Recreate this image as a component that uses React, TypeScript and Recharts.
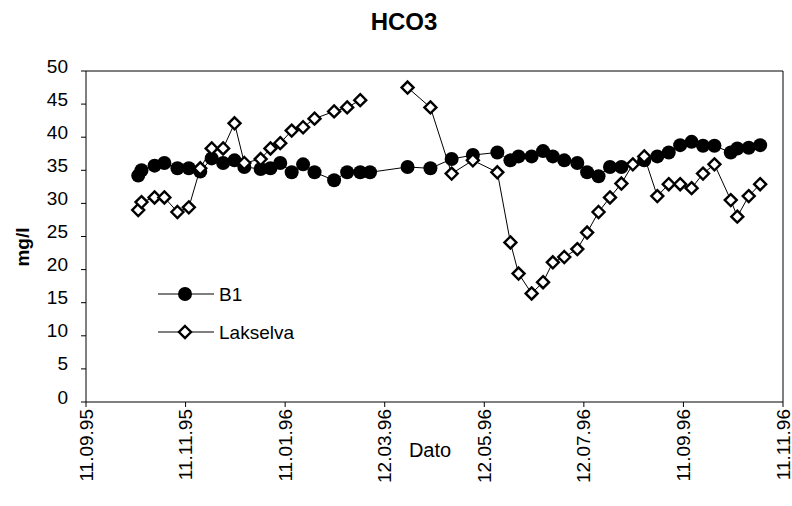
import React from "react";
import { LineChart, Line, XAxis, YAxis, ReferenceLine } from "recharts";

// sampling dates (dd.mm.yy)
const sampleDates = [
  "13.10.95", "15.10.95", "23.10.95", "29.10.95", "06.11.95", "13.11.95", "20.11.95",
  "27.11.95", "04.12.95", "11.12.95", "17.12.95", "27.12.95", "02.01.96", "08.01.96",
  "15.01.96", "22.01.96", "29.01.96", "10.02.96", "18.02.96", "26.02.96", "03.03.96",
  "26.03.96", "09.04.96", "22.04.96", "05.05.96", "20.05.96", "28.05.96", "02.06.96",
  "10.06.96", "17.06.96", "23.06.96", "30.06.96", "08.07.96", "14.07.96", "21.07.96",
  "28.07.96", "04.08.96", "11.08.96", "18.08.96", "26.08.96", "02.09.96", "09.09.96",
  "16.09.96", "23.09.96", "30.09.96", "10.10.96", "14.10.96", "21.10.96", "28.10.96",
];

const b1Values = [
  34.2, 35.0, 35.7, 36.1, 35.3, 35.3, 34.8,
  36.8, 36.1, 36.5, 35.5, 35.2, 35.3, 36.1,
  34.7, 35.9, 34.7, 33.5, 34.7, 34.7, 34.7,
  35.5, 35.3, 36.7, 37.3, 37.7, 36.5, 37.1,
  37.1, 37.9, 37.1, 36.5, 36.1, 34.7, 34.1,
  35.5, 35.5, null, 36.5, 37.1, 37.7, 38.8,
  39.3, 38.7, 38.7, 37.7, 38.3, 38.4, 38.8,
];

const lakselvaValues = [
  29.0, 30.2, 30.9, 30.9, 28.7, 29.4, 35.3,
  38.3, 38.3, 42.1, 36.1, 36.7, 38.3, 39.1,
  41.0, 41.5, 42.8, 43.9, 44.5, 45.6, null,
  47.5, 44.5, 34.5, 36.5, 34.7, 24.1, 19.4,
  16.4, 18.1, 21.1, 21.9, 23.1, 25.6, 28.7,
  30.9, 33.0, 35.9, 37.1, 31.1, 32.9, 32.9,
  32.3, 34.5, 35.9, 30.5, 28.0, 31.1, 32.9,
];

const xTickLabels = [
  "11.09.95", "11.11.95", "11.01.96", "12.03.96",
  "12.05.96", "12.07.96", "11.09.96", "11.11.96",
];
const yTicks = [0, 5, 10, 15, 20, 25, 30, 35, 40, 45, 50];

const FONT = "'Liberation Sans', Arial, sans-serif";

const parseDate = (s: string) => {
  const [d, m, y] = s.split(".").map(Number);
  return Date.UTC(1900 + y, m - 1, d);
};

const data = sampleDates.map((d, i) => ({
  t: parseDate(d),
  b1: b1Values[i],
  lakselva: lakselvaValues[i],
}));

const xTicks = xTickLabels.map(parseDate);
const tickLabelByTime: Record<number, string> = {};
xTickLabels.forEach((l) => (tickLabelByTime[parseDate(l)] = l));

const XTick = ({ x, y, payload }: any) => (
  <text
    x={x}
    y={y}
    transform={`rotate(-90, ${x}, ${y})`}
    textAnchor="end"
    dominantBaseline="central"
    fontFamily={FONT}
    fontSize={19}
    fill="#000"
  >
    {tickLabelByTime[payload.value]}
  </text>
);

const YTick = ({ x, y, payload }: any) => (
  <text
    x={x}
    y={y - 5}
    textAnchor="end"
    dominantBaseline="central"
    fontFamily={FONT}
    fontSize={19}
    fill="#000"
  >
    {payload.value}
  </text>
);

const CircleDot = (props: any) => {
  const { cx, cy, index } = props;
  if (cx == null || cy == null || props.value == null) return <g key={`c-${index}`} />;
  return <circle key={`c-${index}`} cx={cx} cy={cy} r={7} fill="#000" />;
};

const DiamondDot = (props: any) => {
  const { cx, cy, index } = props;
  if (cx == null || cy == null || props.value == null) return <g key={`d-${index}`} />;
  const r = 6;
  return (
    <path
      key={`d-${index}`}
      d={`M${cx},${cy - r}L${cx + r},${cy}L${cx},${cy + r}L${cx - r},${cy}Z`}
      fill="#fff"
      stroke="#000"
      strokeWidth={2.4}
    />
  );
};

const LegendBox = () => (
  <div
    style={{
      position: "absolute",
      left: 158,
      top: 275,
      fontFamily: FONT,
      fontSize: 19,
      color: "#000",
      lineHeight: 1,
    }}
  >
    <div style={{ display: "flex", alignItems: "center", height: 38 }}>
      <svg width={56} height={20}>
        <line x1={0} y1={10} x2={56} y2={10} stroke="#000" strokeWidth={1} />
        <circle cx={27} cy={10} r={7} fill="#000" />
      </svg>
      <span style={{ marginLeft: 5 }}>B1</span>
    </div>
    <div style={{ display: "flex", alignItems: "center", height: 38 }}>
      <svg width={56} height={20}>
        <line x1={0} y1={10} x2={56} y2={10} stroke="#000" strokeWidth={1} />
        <path d="M27,4L33,10L27,16L21,10Z" fill="#fff" stroke="#000" strokeWidth={2.4} />
      </svg>
      <span style={{ marginLeft: 5 }}>Lakselva</span>
    </div>
  </div>
);

export default function App() {
  const start = parseDate(xTickLabels[0]);
  const end = parseDate(xTickLabels[xTickLabels.length - 1]);
  return (
    <div style={{ position: "absolute", left: 0, top: 0, width: 792, height: 506, background: "#fff" }}>
      <LineChart
        width={792}
        height={506}
        data={data}
        margin={{ top: 71, right: 9, bottom: 0, left: 0 }}
      >
        <XAxis
          dataKey="t"
          type="number"
          domain={[start, end]}
          ticks={xTicks}
          tick={<XTick />}
          tickSize={5}
          tickMargin={2}
          height={104}
          stroke="#000"
          interval={0}
        />
        <YAxis
          type="number"
          domain={[0, 50]}
          ticks={yTicks}
          tick={<YTick />}
          tickSize={5}
          tickMargin={13}
          width={86}
          stroke="#000"
          interval={0}
        />
        <ReferenceLine y={50} stroke="#000" strokeWidth={1} />
        <ReferenceLine x={end} stroke="#000" strokeWidth={1} />
        <Line
          dataKey="b1"
          name="B1"
          stroke="#000"
          strokeWidth={1}
          dot={<CircleDot />}
          activeDot={false}
          connectNulls
          isAnimationActive={false}
        />
        <Line
          dataKey="lakselva"
          name="Lakselva"
          stroke="#000"
          strokeWidth={1}
          dot={<DiamondDot />}
          activeDot={false}
          isAnimationActive={false}
        />
      </LineChart>
      <LegendBox />
      <svg
        width={792}
        height={506}
        style={{ position: "absolute", left: 0, top: 0, pointerEvents: "none" }}
      >
        <text x={404} y={30} textAnchor="middle" fontFamily={FONT} fontWeight="bold" fontSize={24}>
          HCO3
        </text>
        <text
          x={22}
          y={247}
          transform="rotate(-90, 22, 247)"
          textAnchor="middle"
          dominantBaseline="central"
          fontFamily={FONT}
          fontWeight="bold"
          fontSize={19}
        >
          mg/l
        </text>
        <text
          x={430}
          y={450}
          textAnchor="middle"
          dominantBaseline="central"
          fontFamily="'Liberation Sans Narrow', 'Liberation Sans', Arial, sans-serif"
          fontSize={20}
        >
          Dato
        </text>
      </svg>
    </div>
  );
}
